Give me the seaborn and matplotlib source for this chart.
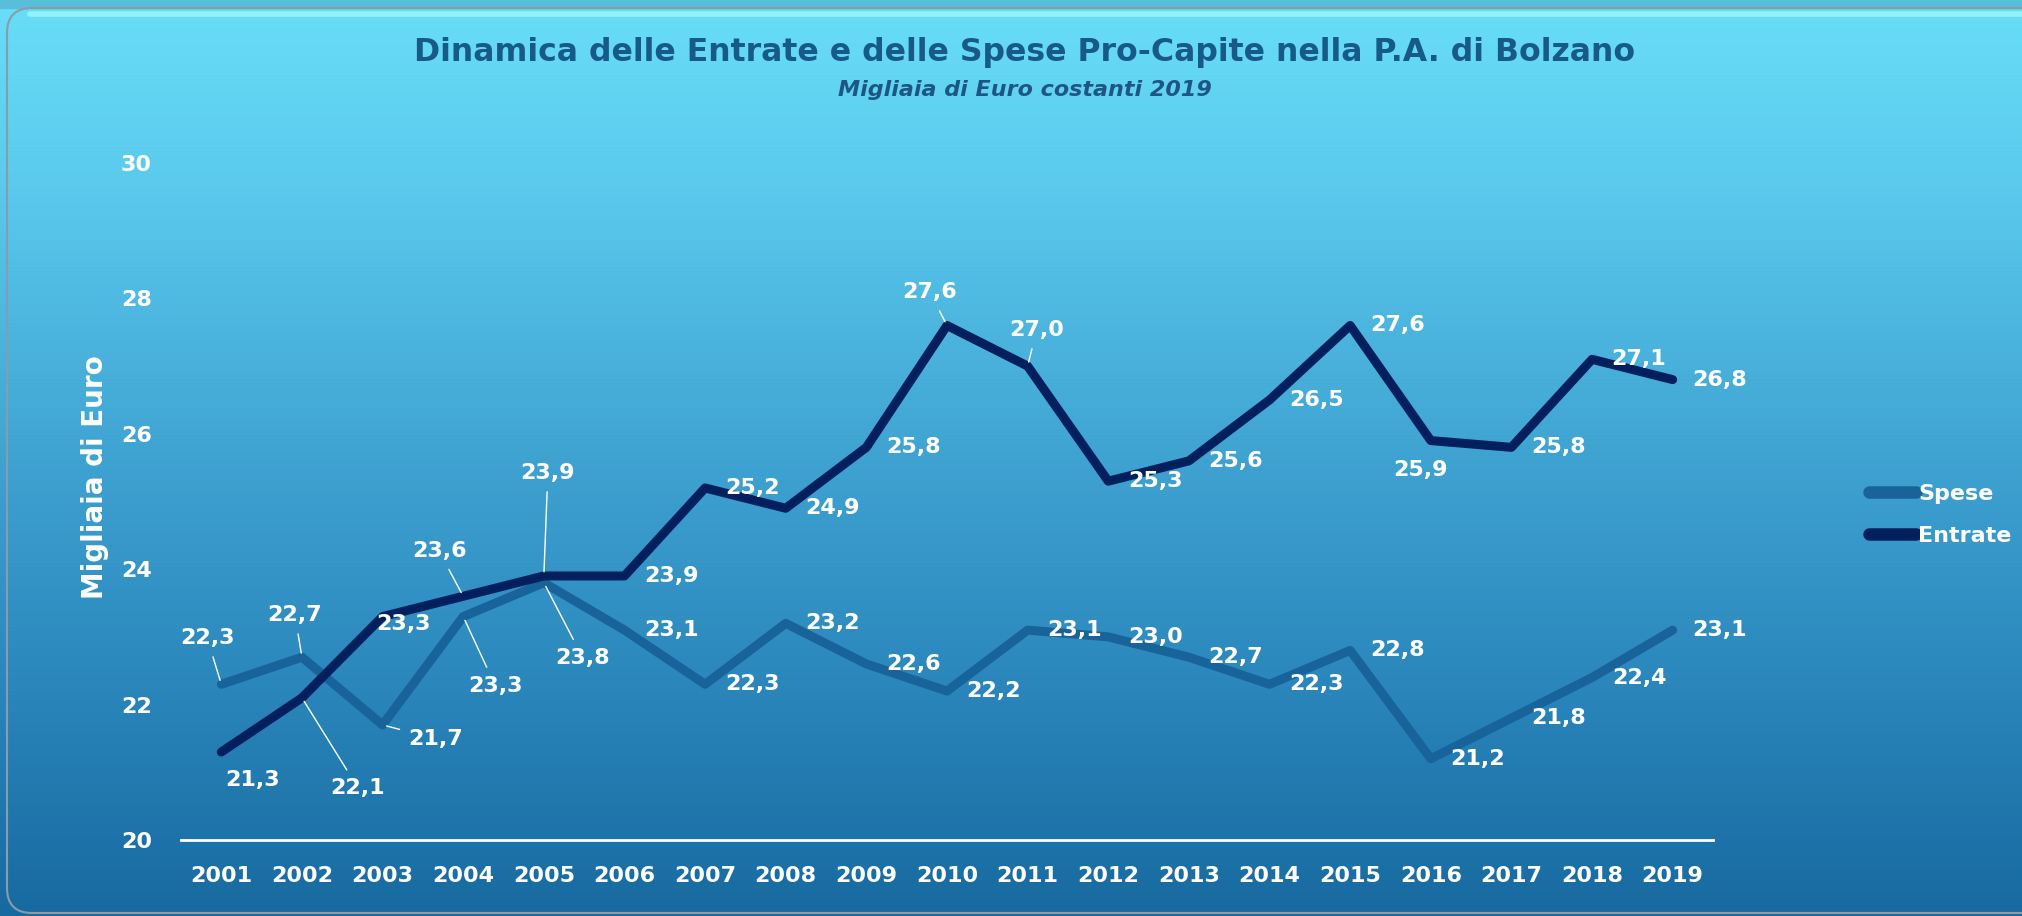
import numpy as np
import pandas as pd
import matplotlib
matplotlib.use('Agg')
import matplotlib.pyplot as plt
import seaborn as sns
from matplotlib.colors import LinearSegmentedColormap
from matplotlib.patches import FancyBboxPatch
from matplotlib.lines import Line2D

# data (migliaia di euro costanti 2019)
years = list(range(2001, 2020))
spese = [22.3, 22.7, 21.7, 23.3, 23.8, 23.1, 22.3, 23.2, 22.6, 22.2,
         23.1, 23.0, 22.7, 22.3, 22.8, 21.2, 21.8, 22.4, 23.1]
entrate = [21.3, 22.1, 23.3, 23.6, 23.9, 23.9, 25.2, 24.9, 25.8, 27.6,
           27.0, 25.3, 25.6, 26.5, 27.6, 25.9, 25.8, 27.1, 26.8]
series_names = ['Spese', 'Entrate']
yticks = [20, 22, 24, 26, 28, 30]

title = 'Dinamica delle Entrate e delle Spese Pro-Capite nella P.A. di Bolzano'
subtitle = 'Migliaia di Euro costanti 2019'
ylabel = 'Migliaia di Euro'

colours = {'Spese': '#18649A', 'Entrate': '#03205E'}

# label placement in pixels (dx right, dy down, leader line) - default is right of the point
default_off = (47, 0, False)
label_off = {
    ('Spese', 2001): (-14, -46, True),
    ('Spese', 2002): (-7, -42, True),
    ('Spese', 2003): (53, 14, True),
    ('Spese', 2004): (32, 69, True),
    ('Spese', 2005): (39, 75, True),
    ('Entrate', 2001): (31, 28, False),
    ('Entrate', 2002): (56, 90, True),
    ('Entrate', 2003): (21, 7, False),
    ('Entrate', 2004): (-24, -45, True),
    ('Entrate', 2005): (4, -103, True),
    ('Entrate', 2010): (-17, -33, True),
    ('Entrate', 2011): (9, -36, True),
    ('Entrate', 2016): (-10, 29, False),
}

W, H = 2022, 916
sns.set_theme(style='white')
plt.rcParams['font.family'] = ['DejaVu Sans']

fig = plt.figure(figsize=(W / 100, H / 100), dpi=100)

# background gradient with rounded frame
bg = fig.add_axes([0, 0, 1, 1], zorder=-10)
bg.set_axis_off()
bg_cmap = LinearSegmentedColormap.from_list(
    'bg', [(0, '#176AA0'), (0.25, '#2A86BB'), (0.5, '#3FA3D2'), (0.8, '#5BCAED'), (1, '#68DEF8')])
grad = np.linspace(0, 1, 256).reshape(-1, 1)
bg.imshow(grad, aspect='auto', cmap=bg_cmap, origin='lower', extent=[0, W, 0, H])
bg.axhspan(H - 8, H, color='#58BFDA')
bg.add_patch(FancyBboxPatch((7, 3), W + 100, H - 11, boxstyle='round,pad=0,rounding_size=25',
                            facecolor='none', edgecolor='#8C9BA6', lw=1.5))
bg.plot([30, W], [H - 14, H - 14], color='#95F6FF', lw=4, alpha=0.9)
bg.set_xlim(0, W)
bg.set_ylim(0, H)

# main axes
ax = fig.add_axes([181 / W, 76 / H, (1713 - 181) / W, (840 - 163) / H])
ax.patch.set_alpha(0)

df = pd.DataFrame({
    'Anno': years * 2,
    'Valore': spese + entrate,
    'Serie': ['Spese'] * len(years) + ['Entrate'] * len(years),
})
sns.lineplot(data=df, x='Anno', y='Valore', hue='Serie', hue_order=series_names,
             palette=colours, linewidth=6.5, ax=ax, legend=False,
             solid_joinstyle='round', solid_capstyle='round')

ax.set_xlim(years[0] - 0.5, years[-1] + 0.5)
ax.set_ylim(yticks[0], yticks[-1])
ax.set_xticks(years)
ax.set_yticks(yticks)
for s in ['top', 'right', 'left']:
    ax.spines[s].set_visible(False)
ax.spines['bottom'].set_color('white')
ax.spines['bottom'].set_linewidth(2)
ax.tick_params(axis='both', colors='white', labelsize=16, length=0)
ax.tick_params(axis='x', pad=19)
ax.tick_params(axis='y', pad=21)
for t in ax.get_xticklabels() + ax.get_yticklabels():
    t.set_fontweight('bold')
ax.set_xlabel('')
ax.set_ylabel(ylabel, color='white', fontsize=20, fontweight='bold')
ax.yaxis.set_label_coords(-0.047, 0.536)

# data labels
for name, vals in zip(series_names, [spese, entrate]):
    for yr, v in zip(years, vals):
        dx, dy, leader = label_off.get((name, yr), default_off)
        arrow = dict(arrowstyle='-', color='white', lw=1, shrinkA=4, shrinkB=3) if leader else None
        ax.annotate(f'{v:.1f}'.replace('.', ','), xy=(yr, v), xytext=(dx * 0.72, -dy * 0.72),
                    textcoords='offset points', ha='center', va='center', color='white',
                    fontsize=16, fontweight='bold', arrowprops=arrow)

# legend
handles = [Line2D([0], [0], color=colours[n], lw=9, solid_capstyle='round') for n in series_names]
fig.legend(handles, series_names, loc='center left', bbox_to_anchor=(1869 / W, 1 - 515 / H),
           frameon=False, handlelength=2.1, handletextpad=0.1, labelspacing=1.0,
           borderaxespad=0, borderpad=0,
           labelcolor='white', prop={'weight': 'bold', 'size': 16})

# titles
fig.text(1025 / W, 1 - 52 / H, title, ha='center', va='center', fontsize=22.7,
         fontweight='bold', color='#175A8A')
fig.text(1025 / W, 1 - 90 / H, subtitle, ha='center', va='center', fontsize=16,
         fontweight='bold', fontstyle='italic', color='#1D5684')

fig.savefig('out.png', dpi=100)
